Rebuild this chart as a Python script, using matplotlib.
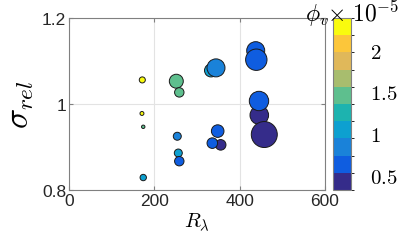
import matplotlib
matplotlib.use("Agg")
import matplotlib.pyplot as plt
import numpy as np
from matplotlib.colors import ListedColormap, BoundaryNorm

plt.rcParams['mathtext.fontset'] = 'cm'

# data (drawing order matters for overlaps)
r_lambda = [171.8, 171.0, 174.0, 174.0, 251.5, 258.5, 253.8, 256.2, 258.5,
            332.8, 344.5, 437.6, 439.0, 446.0, 445.3, 457.7, 355.5, 335.9, 348.5]
sigma_rel = [1.056, 0.978, 0.947, 0.829, 1.053, 1.027, 0.925, 0.886, 0.867,
             1.078, 1.084, 1.124, 1.103, 0.974, 1.007, 0.929, 0.905, 0.909, 0.937]
phi_v = [2.30, 2.30, 1.45, 1.02, 1.45, 1.45, 0.82, 1.02, 0.62,
         1.02, 0.82, 0.62, 0.62, 0.42, 0.62, 0.42, 0.42, 0.62, 0.62]
marker_area = [19, 8, 6, 21, 101, 46, 33, 33, 46,
               87, 168, 168, 237, 179, 195, 350, 58, 58, 82]

# parula-like 10 level map
parula10 = ['#352C8A', '#0F5DE0', '#1A82D9', '#0DA0D0', '#1DB3AF',
            '#5EBF8E', '#A8BD6E', '#E0B85A', '#FCC63A', '#F9FB0E']
cmap = ListedColormap(parula10)
bounds = np.linspace(0.32, 2.38, 11)
norm = BoundaryNorm(bounds, cmap.N)

fig = plt.figure(figsize=(4.07, 2.53), dpi=100)
ax = fig.add_axes([69/407, 1-191/253, 256/407, 172/253])
cax = fig.add_axes([332.5/407, 1-191/253, 18.5/407, 172/253])

sc = ax.scatter(r_lambda, sigma_rel, s=marker_area, c=phi_v, cmap=cmap, norm=norm,
                edgecolors='#1a1a1a', linewidths=0.7, zorder=3)

ax.set_xlim(0, 600)
ax.set_ylim(0.8, 1.2)
ax.set_xticks([0, 200, 400, 600])
ax.set_yticks([0.8, 1.0, 1.2])
ax.set_yticklabels(['0.8', '1', '1.2'])
ax.grid(True, color='#e3e3e3', lw=0.8, zorder=0)
ax.tick_params(direction='in', length=3, top=True, right=True, color='#808080',
               labelsize=12.5, labelcolor='#262626', pad=2)
for lab in ax.get_xticklabels() + ax.get_yticklabels():
    lab.set_family('Liberation Sans')
for sp in ax.spines.values():
    sp.set_color('#808080')
    sp.set_linewidth(0.8)

ax.set_xlabel(r'$R_\lambda$', fontsize=15, labelpad=2)
ax.set_ylabel(r'$\sigma_{rel}$', fontsize=24, labelpad=4)

cb = fig.colorbar(sc, cax=cax, ticks=[0.5, 1.0, 1.5, 2.0])
cb.ax.set_yticklabels([r'$0.5$', r'$1$', r'$1.5$', r'$2$'])
cb.ax.tick_params(length=0, labelsize=15, pad=14)
cb.outline.set_edgecolor('#808080')
cb.outline.set_linewidth(0.8)

fig.text(305/407, 1-21/253, r'$\phi_v$', fontsize=17, ha='left', va='baseline')
fig.text(327/407, 1-21/253, r'$\times\ 10^{-5}$', fontsize=17, ha='left', va='baseline')

fig.savefig('out.png', dpi=100)
